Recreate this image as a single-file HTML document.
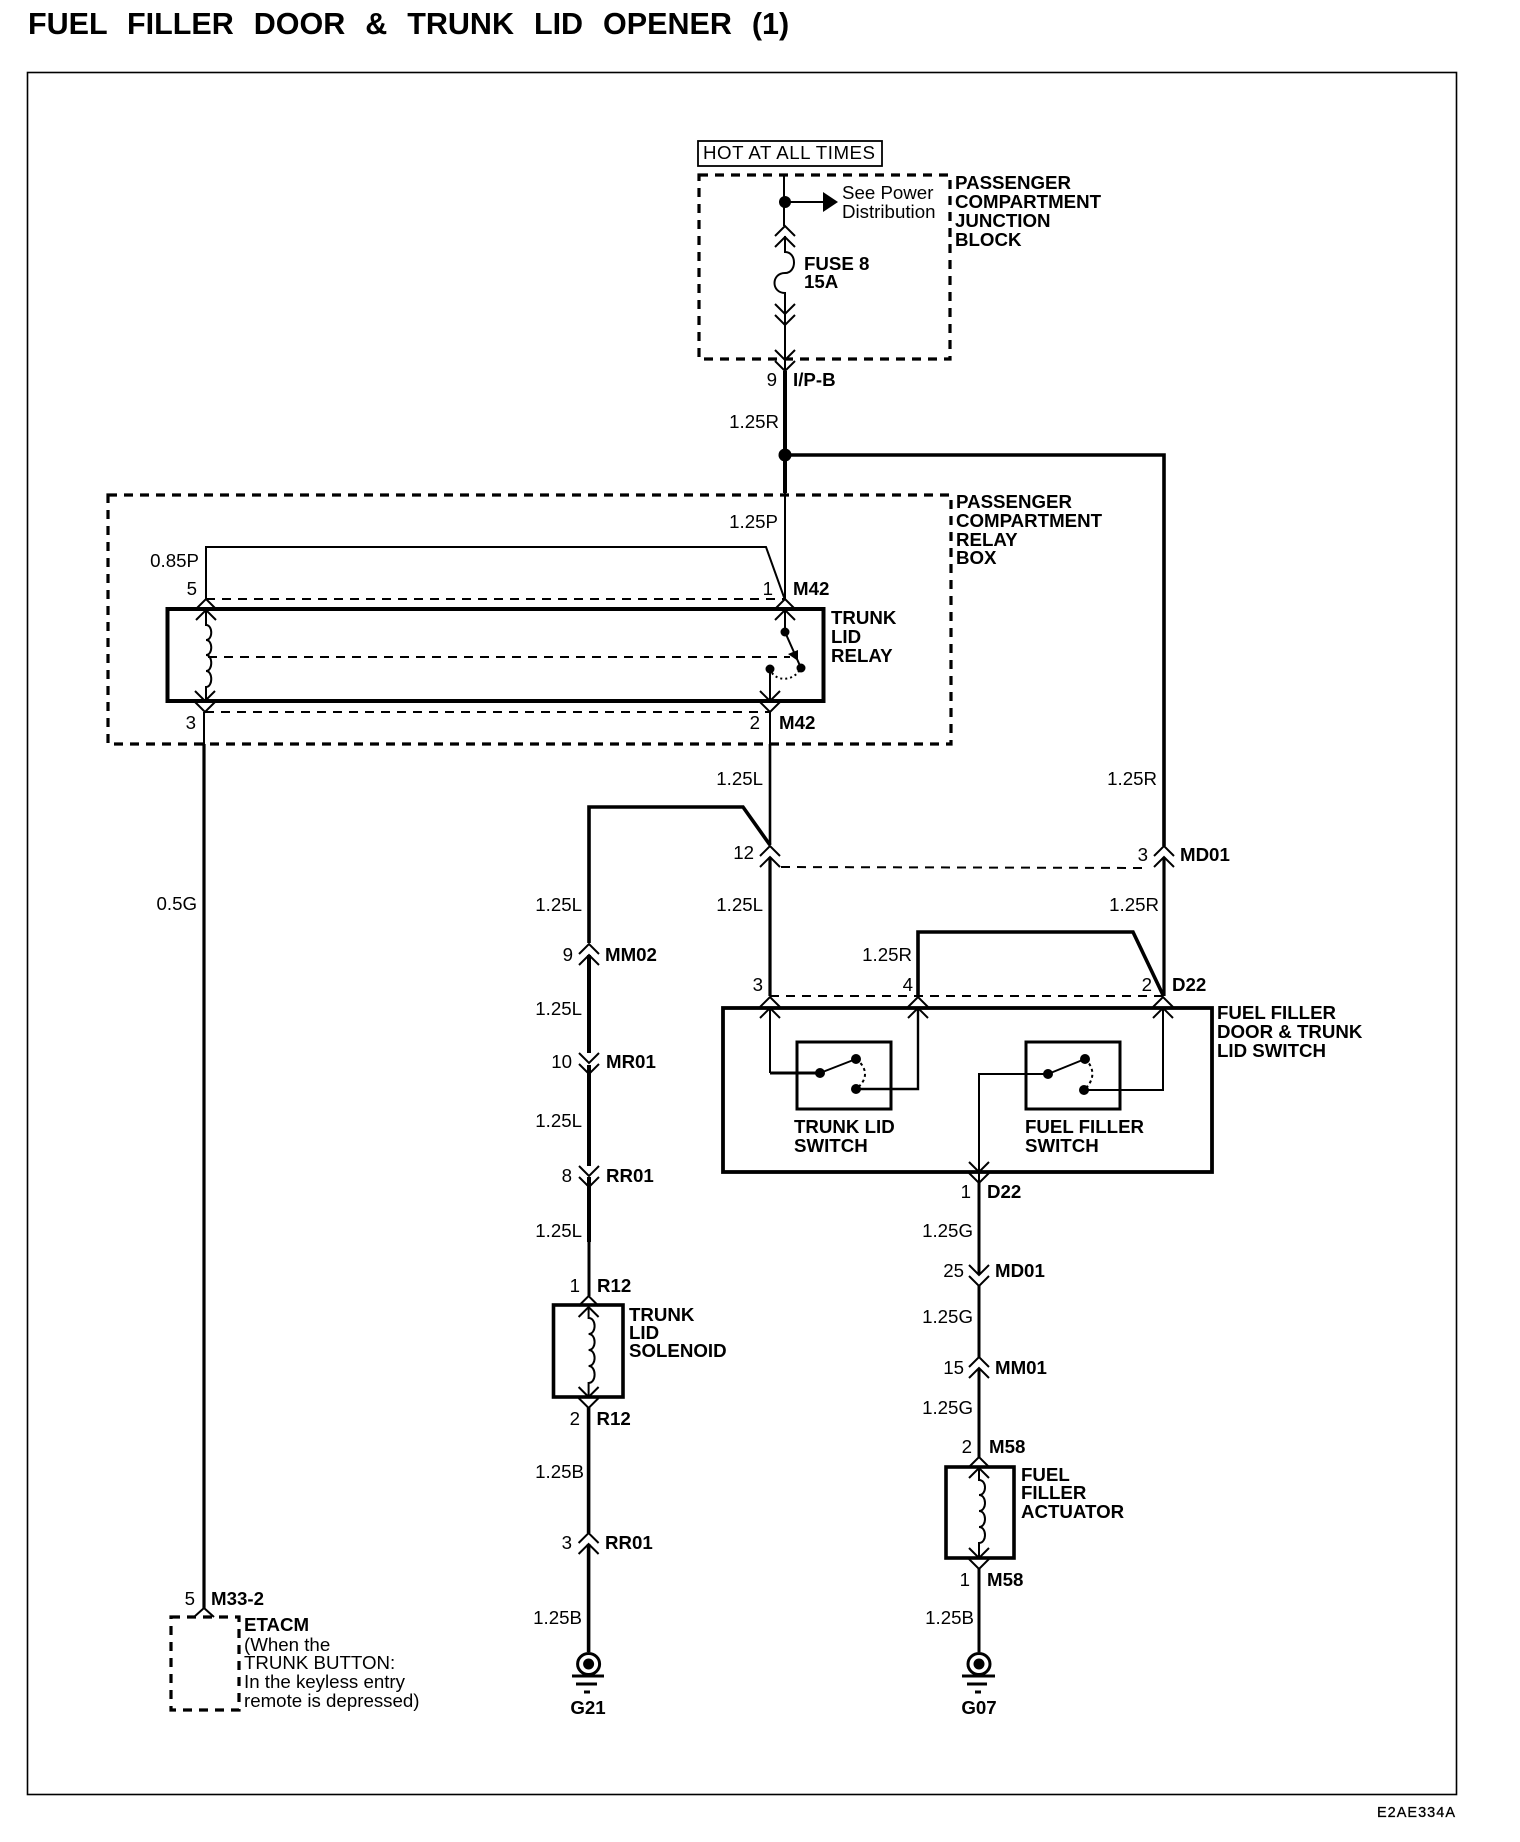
<!DOCTYPE html>
<html>
<head>
<meta charset="utf-8">
<style>
html,body{margin:0;padding:0;background:#fff}
svg{display:block}
text{font-family:"Liberation Sans",sans-serif;font-size:18.7px;fill:#000}
.b{font-weight:bold}
.e{text-anchor:end}
.w{fill:none;stroke:#000;stroke-width:2}
.t{fill:none;stroke:#000;stroke-width:3.6}
.d{fill:none;stroke:#000;stroke-width:3.2;stroke-dasharray:9 7}
.n{fill:none;stroke:#000;stroke-width:2;stroke-dasharray:9 7}
</style>
</head>
<body>
<svg width="1520" height="1842" viewBox="0 0 1520 1842" xmlns="http://www.w3.org/2000/svg">
<defs>
<path id="u" d="M-10,10L0,0L10,10M-10,21L0,11L10,21" fill="none" stroke="#000" stroke-width="2"/>
<path id="v" d="M-10,0L0,10L10,0M-10,11L0,21L10,11" fill="none" stroke="#000" stroke-width="2"/>
</defs>
<rect width="1520" height="1842" fill="#fff"/>
<text x="28" y="34" class="b" style="font-size:30.5px;word-spacing:11.5px">FUEL FILLER DOOR &amp; TRUNK LID OPENER (1)</text>
<rect x="27.5" y="72.5" width="1429" height="1722" fill="none" stroke="#000" stroke-width="1.6"/>
<text x="1377" y="1817" style="font-size:14.5px" textLength="78" stroke="#000" stroke-width=".3">E2AE334A</text>

<!-- Junction block -->
<rect x="698" y="141" width="184" height="25" fill="none" stroke="#000" stroke-width="1.8"/>
<text x="703" y="159" textLength="172">HOT AT ALL TIMES</text>
<rect x="699" y="175" width="251" height="184" class="d"/>
<path class="w" d="M784,175V226M785,236V252c12,0 12,21 0,21c-14,0 -14,20 0,20V325V371"/>
<circle cx="785" cy="202" r="6"/>
<path class="w" d="M785,202H825"/>
<path d="M823,192L838,202L823,212Z"/>
<use href="#u" x="785" y="226"/>
<use href="#v" x="785" y="304"/>
<use href="#v" x="785" y="350"/>
<text x="842" y="199">See Power</text>
<text x="842" y="218">Distribution</text>
<text x="955" y="189" class="b">PASSENGER</text>
<text x="955" y="208" class="b">COMPARTMENT</text>
<text x="955" y="227" class="b">JUNCTION</text>
<text x="955" y="246" class="b">BLOCK</text>
<text x="804" y="270" class="b">FUSE 8</text>
<text x="804" y="288" class="b">15A</text>
<text x="777" y="386" class="e">9</text>
<text x="793" y="386" class="b">I/P-B</text>
<text x="779" y="428" class="e">1.25R</text>
<path class="t" d="M785,371V493" style="stroke-width:4"/>
<circle cx="785" cy="455" r="6.5"/>
<path class="t" d="M785,455H1164V846"/>
<path class="w" d="M785,493V600"/>

<!-- Relay box -->
<rect x="108" y="495" width="843" height="249" class="d"/>
<text x="956" y="508" class="b">PASSENGER</text>
<text x="956" y="527" class="b">COMPARTMENT</text>
<text x="956" y="546" class="b">RELAY</text>
<text x="956" y="564" class="b">BOX</text>
<text x="778" y="528" class="e">1.25P</text>
<text x="199" y="567" class="e">0.85P</text>
<path class="w" d="M206,600V547H766L785,600"/>
<path class="n" d="M206,599H785"/>
<rect x="167.5" y="609" width="656" height="92" fill="none" stroke="#000" stroke-width="4"/>
<use href="#u" x="206" y="599"/>
<use href="#u" x="785" y="599"/>
<path class="w" d="M206,611V625c7,0 7,15 0,15c7,0 7,15 0,15c7,0 7,16 0,16c7,0 7,16 0,16V702"/>
<use href="#v" x="205" y="691"/>
<use href="#v" x="770" y="691"/>
<path class="n" d="M205,712H770"/>
<path class="w" d="M785,611V632L801,668"/>
<circle cx="785" cy="632" r="4.5"/>
<circle cx="801" cy="668" r="4.5"/>
<circle cx="770" cy="669" r="4.5"/>
<path class="w" d="M770,669V702"/>
<path d="M772,673C778,681 792,681 799,671" fill="none" stroke="#000" stroke-width="2" stroke-dasharray="2 3"/>
<path class="n" d="M208,657H790"/>
<path d="M788,654L798,650L798,661Z"/>
<text x="197" y="595" class="e">5</text>
<text x="773" y="595" class="e">1</text>
<text x="793" y="595" class="b">M42</text>
<text x="831" y="624" class="b">TRUNK</text>
<text x="831" y="643" class="b">LID</text>
<text x="831" y="662" class="b">RELAY</text>
<text x="196" y="729" class="e">3</text>
<text x="760" y="729" class="e">2</text>
<text x="779" y="729" class="b">M42</text>

<path class="w" d="M204,712V744"/>
<path class="t" d="M204,744V1608" style="stroke-width:3.2"/>
<path class="w" d="M770,712V744"/>
<text x="197" y="910" class="e">0.5G</text>
<text x="763" y="785" class="e">1.25L</text>

<!-- Centre wiring -->
<path class="t" d="M770,744V845" style="stroke-width:2.6"/>
<path class="t" d="M589,943V807H743L770,845"/>
<use href="#u" x="770" y="846"/>
<path class="t" d="M770,857V996" style="stroke-width:3.2"/>
<path class="n" d="M781,867L1147,868"/>
<use href="#u" x="1164" y="846"/>
<path class="t" d="M1164,857V996" style="stroke-width:3.2"/>
<text x="754" y="859" class="e">12</text>
<text x="1157" y="785" class="e">1.25R</text>
<text x="1148" y="861" class="e">3</text>
<text x="1180" y="861" class="b">MD01</text>
<text x="763" y="911" class="e">1.25L</text>
<text x="1159" y="911" class="e">1.25R</text>
<text x="912" y="961" class="e">1.25R</text>
<path class="t" d="M918,996V932H1133L1163,995"/>
<path class="n" d="M770,996H1163"/>
<text x="763" y="991" class="e">3</text>
<text x="913" y="991" class="e">4</text>
<text x="1152" y="991" class="e">2</text>
<text x="1172" y="991" class="b">D22</text>

<!-- Switch box -->
<rect x="723" y="1008" width="489" height="164" fill="none" stroke="#000" stroke-width="3.8"/>
<use href="#u" x="770" y="997"/>
<use href="#u" x="918" y="997"/>
<use href="#u" x="1163" y="997"/>
<text x="1217" y="1019" class="b">FUEL FILLER</text>
<text x="1217" y="1038" class="b">DOOR &amp; TRUNK</text>
<text x="1217" y="1057" class="b">LID SWITCH</text>
<rect x="797" y="1042" width="94" height="67" fill="none" stroke="#000" stroke-width="3"/>
<rect x="1026" y="1042" width="94" height="67" fill="none" stroke="#000" stroke-width="3"/>
<path class="w" d="M770,1009V1073"/>
<path d="M770,1073H820" fill="none" stroke="#000" stroke-width="3"/>
<path class="w" d="M820,1073L856,1059"/>
<circle cx="820" cy="1073" r="5"/>
<circle cx="856" cy="1059" r="5"/>
<circle cx="856" cy="1089" r="5"/>
<path d="M856,1059C868,1068 868,1080 856,1089" fill="none" stroke="#000" stroke-width="2" stroke-dasharray="3 3"/>
<path d="M856,1089H918V1008" fill="none" stroke="#000" stroke-width="2.4"/>
<path class="w" d="M1048,1074H979V1183"/>
<path class="w" d="M1048,1074L1085,1059"/>
<circle cx="1048" cy="1074" r="5"/>
<circle cx="1085" cy="1059" r="5"/>
<circle cx="1084" cy="1090" r="5"/>
<path d="M1085,1059C1095,1068 1095,1080 1084,1090" fill="none" stroke="#000" stroke-width="2" stroke-dasharray="3 3"/>
<path class="w" d="M1084,1090H1163V1008"/>
<text x="794" y="1133" class="b">TRUNK LID</text>
<text x="794" y="1152" class="b">SWITCH</text>
<text x="1025" y="1133" class="b">FUEL FILLER</text>
<text x="1025" y="1152" class="b">SWITCH</text>
<use href="#v" x="979" y="1162"/>

<!-- Left chain -->
<use href="#u" x="589" y="944"/>
<path class="t" d="M589,955V1053" style="stroke-width:4"/>
<use href="#v" x="589" y="1053"/>
<path class="t" d="M589,1065V1166M589,1177V1242" style="stroke-width:4"/>
<use href="#v" x="589" y="1166"/>
<path class="t" d="M589,1242V1296" style="stroke-width:3"/>
<text x="582" y="911" class="e">1.25L</text>
<text x="573" y="961" class="e">9</text>
<text x="605" y="961" class="b">MM02</text>
<text x="582" y="1015" class="e">1.25L</text>
<text x="572" y="1068" class="e">10</text>
<text x="606" y="1068" class="b">MR01</text>
<text x="582" y="1127" class="e">1.25L</text>
<text x="572" y="1182" class="e">8</text>
<text x="606" y="1182" class="b">RR01</text>
<text x="582" y="1237" class="e">1.25L</text>
<text x="580" y="1292" class="e">1</text>
<text x="597" y="1292" class="b">R12</text>
<rect x="553.5" y="1305" width="69.5" height="92" fill="none" stroke="#000" stroke-width="3.6"/>
<use href="#u" x="588.6" y="1296"/>
<path class="w" d="M588.6,1307V1318c8,0 8,16 0,16c8,0 8,16 0,16c8,0 8,16 0,16c8,0 8,17 0,17V1397"/>
<use href="#v" x="588.6" y="1387"/>
<text x="629" y="1321" class="b">TRUNK</text>
<text x="629" y="1339" class="b">LID</text>
<text x="629" y="1357" class="b">SOLENOID</text>
<text x="580" y="1425" class="e">2</text>
<text x="596.5" y="1425" class="b">R12</text>
<path class="t" d="M588.6,1407V1533M588.6,1544V1652"/>
<use href="#u" x="588.6" y="1533"/>
<text x="584" y="1478" class="e">1.25B</text>
<text x="572" y="1549" class="e">3</text>
<text x="605" y="1549" class="b">RR01</text>
<text x="582" y="1624" class="e">1.25B</text>
<ellipse cx="588.6" cy="1664" rx="11" ry="10.5" fill="none" stroke="#000" stroke-width="3"/>
<ellipse cx="588.6" cy="1664" rx="5.5" ry="5.5"/>
<path d="M572,1676H604M576,1684H597M584,1692H590" fill="none" stroke="#000" stroke-width="3"/>
<text x="588" y="1714" class="b" text-anchor="middle">G21</text>

<!-- Right chain -->
<text x="971" y="1198" class="e">1</text>
<text x="987" y="1198" class="b">D22</text>
<path class="t" d="M979,1183V1275M979,1285V1357M979,1368V1457" style="stroke-width:3"/>
<use href="#v" x="979" y="1265"/>
<use href="#u" x="979" y="1357"/>
<text x="973" y="1237" class="e">1.25G</text>
<text x="964" y="1277" class="e">25</text>
<text x="995" y="1277" class="b">MD01</text>
<text x="973" y="1323" class="e">1.25G</text>
<text x="964" y="1374" class="e">15</text>
<text x="995" y="1374" class="b">MM01</text>
<text x="973" y="1414" class="e">1.25G</text>
<text x="972" y="1453" class="e">2</text>
<text x="989" y="1453" class="b">M58</text>
<rect x="946" y="1467" width="68" height="91" fill="none" stroke="#000" stroke-width="3.6"/>
<use href="#u" x="979" y="1457"/>
<path class="w" d="M979,1468V1480c8,0 8,15 0,15c8,0 8,16 0,16c8,0 8,16 0,16c8,0 8,16 0,16V1558"/>
<use href="#v" x="979" y="1548"/>
<text x="1021" y="1481" class="b">FUEL</text>
<text x="1021" y="1499" class="b">FILLER</text>
<text x="1021" y="1518" class="b">ACTUATOR</text>
<text x="970" y="1586" class="e">1</text>
<text x="987" y="1586" class="b">M58</text>
<path class="t" d="M979,1568V1652" style="stroke-width:3"/>
<text x="974" y="1624" class="e">1.25B</text>
<ellipse cx="979" cy="1664" rx="11" ry="10.5" fill="none" stroke="#000" stroke-width="3"/>
<ellipse cx="979" cy="1664" rx="5.5" ry="5.5"/>
<path d="M962,1676H995M967,1684H987M975,1692H981" fill="none" stroke="#000" stroke-width="3"/>
<text x="979" y="1714" class="b" text-anchor="middle">G07</text>

<!-- ETACM -->
<text x="195" y="1605" class="e">5</text>
<text x="211" y="1605" class="b">M33-2</text>
<rect x="171" y="1617" width="68" height="93" class="d"/>
<path class="w" d="M194,1617L204,1608L214,1617"/>
<text x="244" y="1631" class="b">ETACM</text>
<text x="244" y="1651">(When the</text>
<text x="244" y="1669">TRUNK BUTTON:</text>
<text x="244" y="1688">In the keyless entry</text>
<text x="244" y="1707">remote is depressed)</text>
</svg>
</body>
</html>
